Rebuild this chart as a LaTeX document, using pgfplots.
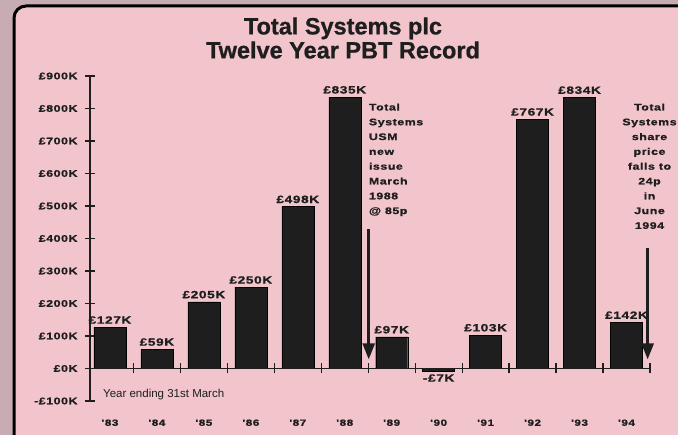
\documentclass[border=0pt]{standalone}
\usepackage{pgfplots}
\pgfplotsset{compat=1.18}
\usepackage{fontspec}
\usetikzlibrary{arrows.meta}
\setmainfont{Liberation Sans}
\newfontfamily\widebf[FakeStretch=1.3,LetterSpace=6,FakeBold=1.2]{Liberation Sans}
\newfontfamily\titlefont[FakeBold=0.8]{Liberation Sans}
\definecolor{bgpink}{RGB}{242,197,205}
\definecolor{outerpink}{RGB}{200,172,180}
\definecolor{ink}{RGB}{30,30,30}

\begin{document}
\begin{tikzpicture}
\path[use as bounding box] (0,0) rectangle (678pt,435pt);
\fill[outerpink] (0,0) rectangle (678pt,435pt);
\draw[line width=3pt, fill=bgpink, rounded corners=12pt] (14pt,-20pt) rectangle (720pt,429pt);
\node[font=\titlefont\bfseries\fontsize{23.5}{24}\selectfont, align=center, text=ink] at (343pt,397pt)
  {Total Systems plc\\Twelve Year PBT Record};

\begin{axis}[
    at={(90pt,34pt)}, anchor=south west,
    scale only axis, width=560pt, height=325pt,
    xmin=-0.4255, xmax=11.5, ymin=-100, ymax=900,
    axis y line=left, axis x line=bottom,
    y axis line style={-, line width=1.3pt, ink},
    x axis line style={draw=none},
    clip=false,
    ybar, bar width=32pt,
    tick align=center,
    major tick length=10pt,
    ytick={-100,0,100,200,300,400,500,600,700,800,900},
    yticklabels={-£100K,£0K,£100K,£200K,£300K,£400K,£500K,£600K,£700K,£800K,£900K},
    ytick style={line width=1.3pt, ink},
    yticklabel style={font=\widebf\bfseries\fontsize{9.5}{10}\selectfont, text=ink, xshift=-4pt},
    xtick={0,1,2,3,4,5,6,7,8,9,10,11},
    xticklabels={'83,'84,'85,'86,'87,'88,'89,'90,'91,'92,'93,'94},
    xtick style={draw=none},
    xticklabel style={font=\widebf\bfseries\fontsize{9}{10}\selectfont, text=ink, yshift=-10pt},
]
\addplot[fill=ink, draw=black, point meta=explicit symbolic, nodes near coords,
    visualization depends on={y \as \rawy},
    nodes near coords style={font=\widebf\bfseries\fontsize{10.5}{10}\selectfont, text=ink,
      anchor=\ifdim\rawy pt<0pt north\else south\fi}]
  coordinates {(0,127)[£127K] (1,59)[£59K] (2,205)[£205K] (3,250)[£250K] (4,498)[£498K]
    (5,835)[£835K] (6,97)[£97K] (7,-7)[-£7K] (8,103)[£103K] (9,767)[£767K]
    (10,834)[£834K] (11,142)[£142K]};

% zero line with crossing ticks between the bars
\draw[line width=1.3pt, ink] (axis cs:-0.4255,0) -- (axis cs:11.5,0);
\pgfplotsinvokeforeach{0.5,1.5,2.5,3.5,4.5,5.5,6.5,7.5,8.5,9.5,10.5,11.5}{
  \draw[line width=1.3pt, ink] ([yshift=-5pt]axis cs:#1,0) -- ([yshift=5pt]axis cs:#1,0);
}

\node[anchor=west, font=\fontsize{11.5}{12}\selectfont, text=ink] at (axis cs:-0.22,-80)
  {Year ending 31st March};

\node[anchor=north west, align=left, font=\widebf\bfseries\fontsize{9.5}{14.8}\selectfont, text=ink]
  at (axis cs:5.44,826) {Total\\Systems\\USM\\new\\issue\\March\\1988\\@ 85p};
\draw[line width=2.5pt, ink, -{Triangle[width=12pt,length=16pt]}]
  (axis cs:5.51,428) -- (axis cs:5.51,28);

\node[anchor=north, align=center, font=\widebf\bfseries\fontsize{9.5}{14.8}\selectfont, text=ink]
  at (axis cs:11.49,826) {Total\\Systems\\share\\price\\falls to\\24p\\in\\June\\1994};
\draw[line width=2.5pt, ink, -{Triangle[width=12pt,length=16pt]}]
  (axis cs:11.45,372) -- (axis cs:11.45,28);
\end{axis}
\end{tikzpicture}
\end{document}
